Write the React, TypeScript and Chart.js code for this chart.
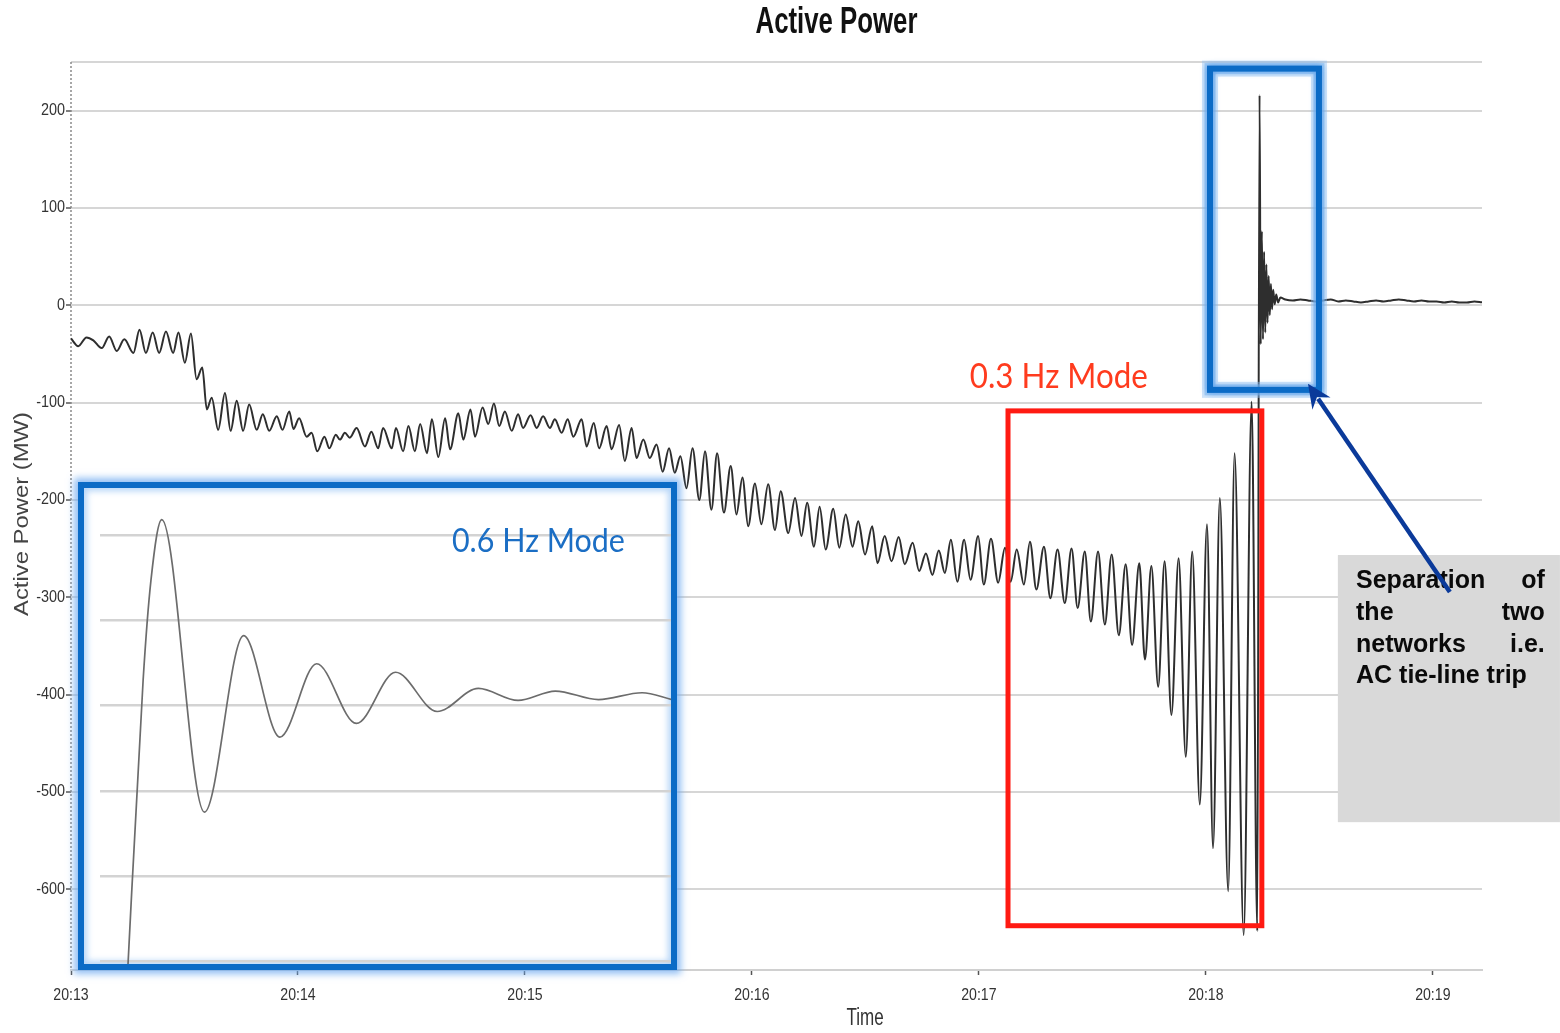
import React, { useEffect, useRef } from 'react';
import { Chart, registerables } from 'chart.js';

Chart.register(...registerables);

// ---------------- Data ----------------
// Main record: seconds after 20:13:00 and active power in MW (peaks / troughs of the swings)
const seg1Seconds = [0.0, 1.9, 4.1, 5.9, 8.1, 10.1, 12.1, 14.1, 16.5, 18.1, 19.8, 21.6, 23.3, 25.1, 27.0, 28.4, 30.1, 31.7, 33.2, 34.7, 35.9, 37.2, 38.9, 40.7, 42.2, 43.8, 45.5, 47.1, 49.1, 50.7, 52.4, 54.4, 55.9, 57.7, 58.8, 60.3, 62.3, 63.6, 65.1, 67.0, 68.3, 70.0, 71.1, 72.4, 73.7, 75.5, 77.7, 79.4, 81.2, 82.5, 84.8, 85.9, 87.8, 89.2, 90.9, 92.3, 94.1, 95.4, 97.1, 98.9];
const seg1PowerMW = [-34, -42, -33, -36, -44, -32, -47, -35, -49, -25, -49, -28, -49, -27, -49, -28, -59, -29, -76, -64, -107, -95, -128, -90, -129, -98, -129, -102, -128, -112, -129, -114, -128, -109, -127, -116, -135, -131, -150, -135, -147, -133, -138, -131, -136, -126, -145, -130, -147, -126, -147, -126, -150, -124, -150, -122, -152, -117, -156, -116];

const seg2Seconds = [100.2, 102.4, 103.7, 105.6, 106.8, 108.8, 110.3, 111.8, 113.2, 114.7, 116.5, 118.2, 119.5, 121.5, 123.1, 124.8, 126.6, 127.9, 129.7, 131.3, 132.8, 135.0, 136.3, 138.2, 139.6, 141.6, 142.9, 144.9, 146.4, 148.2, 149.5, 151.3, 153.0, 154.8, 156.4, 158.1, 159.6, 161.1, 162.7, 164.3, 166.1, 167.6, 169.3, 170.8, 172.6, 174.4, 175.9, 177.5, 179.0, 180.8, 182.5, 184.3, 186.1, 187.6, 189.6, 191.4, 193.1, 194.6, 196.4, 197.9, 199.5];
const seg2PowerMW = [-148, -111, -138, -107, -135, -105, -122, -101, -124, -109, -129, -112, -126, -113, -126, -114, -126, -117, -131, -117, -135, -117, -145, -121, -147, -124, -148, -123, -160, -126, -157, -138, -157, -143, -171, -147, -172, -155, -188, -147, -200, -150, -210, -152, -213, -165, -215, -177, -227, -183, -225, -184, -231, -191, -234, -198, -237, -203, -248, -207, -251];

const seg3Seconds = [201.5, 203.1, 204.8, 206.6, 208.1, 209.9, 211.8, 213.2, 215.1, 216.9, 218.8, 220.4, 222.5, 224.2, 226.0, 227.7, 229.4, 231.0, 232.6, 234.3, 236.1, 237.8, 239.8, 241.3, 243.2, 245.1, 246.9, 248.4, 250.0, 251.9, 253.5, 255.2, 257.2, 258.9, 260.8, 262.7, 264.5, 266.1, 268.0, 269.6, 271.5, 273.3, 275.1, 277.0, 278.8, 280.5, 282.4, 283.9, 285.6, 287.4, 289.1, 290.9, 292.8, 294.7, 296.4, 298.4, 300.3, 301.9, 303.7, 305.9, 307.6, 310.0, 312.1, 313.6];
const seg3PowerMW = [-209, -249, -215, -248, -222, -256, -227, -265, -237, -263, -238, -266, -244, -273, -255, -277, -252, -275, -241, -284, -241, -282, -237, -287, -240, -285, -249, -284, -251, -287, -243, -292, -248, -301, -251, -306, -250, -311, -253, -325, -253, -328, -256, -339, -266, -349, -265, -364, -268, -392, -263, -421, -260, -464, -253, -513, -225, -558, -198, -602, -152, -647, -99, -643];

const seg4Seconds = [314.2, 314.5, 314.8, 315.1, 315.4, 315.7, 316.0, 316.3, 316.6, 316.9, 317.2, 317.5, 317.8, 318.2, 318.6, 319.1, 319.7, 321, 323, 325, 327, 329, 331, 333, 335, 337, 339, 341, 343, 345, 347, 349, 351, 353, 355, 357, 359, 361, 363, 365, 367, 369, 371, 373];
const seg4PowerMW = [216, -40, 76, -35, 55, -28, 42, -18, 30, -10, 22, -4, 16, 1, 11, 3, 8, 6, 5, 6, 5, 4, 5, 6, 4, 5, 4, 3, 4, 5, 4, 5, 6, 5, 4, 5, 4, 4, 3, 4, 3, 3, 4, 3];

// Axis ticks
const timeTickSeconds = [0, 60, 120, 180, 240, 300, 360];
const timeTickLabels = ['20:13', '20:14', '20:15', '20:16', '20:17', '20:18', '20:19'];
const powerTickValues = [200, 100, 0, -100, -200, -300, -400, -500, -600];

// Inset (0.6 Hz mode close-up): seconds and power (inset units)
const insetSeconds = [0.53, 0.88, 1.04, 1.26, 2.13, 2.93, 3.67, 4.42, 5.23, 6.03, 6.88, 7.72, 8.53, 9.29, 10.17, 11.06, 11.67];
const insetPower = [-150, 230, 347, 418, 75, 282, 163, 249, 179, 239, 193, 220, 206, 217, 207, 215, 207];
const insetGridValues = [-100, 0, 100, 200, 300, 400];

// Text
const chartTitle = 'Active Power';
const yAxisTitle = 'Active Power (MW)';
const xAxisTitle = 'Time';
const modeLabelSlow = '0.3 Hz Mode';
const modeLabelFast = '0.6 Hz Mode';
const noteLines = [['Separation', 'of'], ['the', 'two'], ['networks', 'i.e.'], ['AC tie-line trip']];

// ---------------- Layout constants ----------------
const Y_MIN = -683;
const Y_MAX = 250;
const T_MIN = 0;
const T_MAX = 373;

// Annotation geometry in data coordinates (seconds, MW)
const redBox = { t0: 247.7, t1: 314.8, v0: -108.5, v1: -637.5 };
const blueBox = { t0: 301.1, t1: 329.9, v0: 243.2, v1: -86.9 };
const noteBox = { t0: 334.9, t1: 393.6, v0: -256.6, v1: -531.1 };
const noteText = { tLeft: 339.7, tRight: 389.6, baselines: [-290.8, -323.4, -356.0, -388.5] };
const arrow = { tTail: 364.5, vTail: -294.6, tTip: 327.0, vTip: -80.7 };
const slowLabelPos = { t: 237.6, v: -73.5 };
const fastLabelPos = { t: 7.18, v: 393 };

const SANS = "'Liberation Sans', Arial, Helvetica, sans-serif";
const CALIBRI_LIKE = "Lato, 'Open Sans', 'Noto Sans', sans-serif";

function zip(ts: number[], vs: number[]) {
  const n = Math.min(ts.length, vs.length);
  const out: { x: number; y: number }[] = [];
  for (let i = 0; i < n; i++) out.push({ x: ts[i], y: vs[i] });
  return out;
}

function fillFitted(
  ctx: CanvasRenderingContext2D,
  text: string,
  x: number,
  y: number,
  font: string,
  color: string,
  align: CanvasTextAlign,
  width?: number,
  scaleX = 1,
  baseline: CanvasTextBaseline = 'middle'
) {
  ctx.save();
  ctx.font = font;
  ctx.fillStyle = color;
  ctx.textAlign = align;
  ctx.textBaseline = baseline;
  const natural = ctx.measureText(text).width;
  const sx = width ? width / natural : scaleX;
  ctx.translate(x, y);
  ctx.scale(sx, 1);
  ctx.fillText(text, 0, 0);
  ctx.restore();
}

const overlayPlugin = {
  id: 'overlayAnnotations',
  beforeDatasetsDraw(chart: any) {
    // dotted left axis line
    const ctx: CanvasRenderingContext2D = chart.ctx;
    const area = chart.chartArea;
    ctx.save();
    ctx.strokeStyle = '#8a8a8a';
    ctx.lineWidth = 1.5;
    ctx.setLineDash([2, 2]);
    ctx.beginPath();
    ctx.moveTo(area.left, area.top);
    ctx.lineTo(area.left, area.bottom);
    ctx.stroke();
    ctx.restore();
  },
  afterDatasetsDraw(chart: any) {
    const ctx: CanvasRenderingContext2D = chart.ctx;
    const xs = chart.scales.x;
    const ys = chart.scales.y;
    const px = (t: number) => xs.getPixelForValue(t);
    const py = (v: number) => ys.getPixelForValue(v);

    // Red box (0.3 Hz mode)
    ctx.save();
    ctx.strokeStyle = '#ff1a12';
    ctx.lineWidth = 5;
    ctx.strokeRect(px(redBox.t0), py(redBox.v0), px(redBox.t1) - px(redBox.t0), py(redBox.v1) - py(redBox.v0));
    ctx.restore();

    // Blue glowing box (separation)
    ctx.save();
    const bx = px(blueBox.t0), by = py(blueBox.v0);
    const bw = px(blueBox.t1) - bx, bh = py(blueBox.v1) - by;
    ctx.strokeStyle = 'rgba(150,195,242,0.45)';
    ctx.lineWidth = 16;
    ctx.strokeRect(bx, by, bw, bh);
    ctx.strokeStyle = 'rgba(130,185,240,0.55)';
    ctx.lineWidth = 11;
    ctx.strokeRect(bx, by, bw, bh);
    ctx.shadowColor = 'rgba(60,140,230,0.8)';
    ctx.shadowBlur = 6;
    ctx.strokeStyle = '#0b6bc6';
    ctx.lineWidth = 6;
    ctx.strokeRect(bx, by, bw, bh);
    ctx.restore();

    // 0.3 Hz label
    fillFitted(ctx, modeLabelSlow, px(slowLabelPos.t), py(slowLabelPos.v), `34px ${CALIBRI_LIKE}`, '#ff3b1e', 'left', 178);

    // Grey note box
    ctx.save();
    ctx.fillStyle = '#d9d9d9';
    const gx = px(noteBox.t0), gy = py(noteBox.v0);
    ctx.fillRect(gx, gy, px(noteBox.t1) - gx, py(noteBox.v1) - gy);
    ctx.restore();

    const left = px(noteText.tLeft);
    const right = px(noteText.tRight);
    noteLines.forEach((words, i) => {
      const base = py(noteText.baselines[i]);
      const font = `bold 25px ${SANS}`;
      fillFitted(ctx, words[0], left, base, font, '#0a0a0a', 'left', undefined, 1, 'alphabetic');
      if (words.length > 1) {
        fillFitted(ctx, words[words.length - 1], right, base, font, '#0a0a0a', 'right', undefined, 1, 'alphabetic');
      }
    });

    // Arrow
    const tx = px(arrow.tTail), ty = py(arrow.vTail);
    const hx = px(arrow.tTip), hy = py(arrow.vTip);
    const ang = Math.atan2(hy - ty, hx - tx);
    const headLen = 24;
    const headHalf = 11;
    const baseX = hx - headLen * Math.cos(ang);
    const baseY = hy - headLen * Math.sin(ang);
    ctx.save();
    ctx.strokeStyle = '#0b3a9a';
    ctx.fillStyle = '#0b3a9a';
    ctx.lineWidth = 4.5;
    ctx.beginPath();
    ctx.moveTo(tx, ty);
    ctx.lineTo(baseX + 6 * Math.cos(ang), baseY + 6 * Math.sin(ang));
    ctx.stroke();
    ctx.beginPath();
    ctx.moveTo(hx, hy);
    ctx.lineTo(baseX + headHalf * Math.sin(ang), baseY - headHalf * Math.cos(ang));
    ctx.lineTo(baseX + 8 * Math.cos(ang), baseY + 8 * Math.sin(ang));
    ctx.lineTo(baseX - headHalf * Math.sin(ang), baseY + headHalf * Math.cos(ang));
    ctx.closePath();
    ctx.fill();
    ctx.restore();
  },
  afterDraw(chart: any) {
    const ctx: CanvasRenderingContext2D = chart.ctx;
    const xs = chart.scales.x;
    const ys = chart.scales.y;
    const area = chart.chartArea;

    // Title
    fillFitted(ctx, chartTitle, 836.5, 23, `bold 37px ${SANS}`, '#111111', 'center', 162);

    // Y tick labels
    powerTickValues.forEach((v) => {
      fillFitted(ctx, String(v), area.left - 6, ys.getPixelForValue(v), `16px ${SANS}`, '#333333', 'right', undefined, 0.9);
    });
    // X tick labels
    timeTickSeconds.forEach((s, i) => {
      fillFitted(ctx, timeTickLabels[i], xs.getPixelForValue(s), area.bottom + 25, `17px ${SANS}`, '#333333', 'center', undefined, 0.83);
    });

    // Axis titles
    fillFitted(ctx, xAxisTitle, 865, area.bottom + 49, `23px ${SANS}`, '#333333', 'center', undefined, 0.74);
    ctx.save();
    ctx.translate(22, (area.top + area.bottom) / 2 - 2);
    ctx.rotate(-Math.PI / 2);
    fillFitted(ctx, yAxisTitle, 0, 0, `20px ${SANS}`, '#444444', 'center', 204);
    ctx.restore();
  },
};

const insetLabelPlugin = {
  id: 'insetLabel',
  afterDraw(chart: any) {
    const ctx: CanvasRenderingContext2D = chart.ctx;
    const px = chart.scales.x.getPixelForValue(fastLabelPos.t);
    const py = chart.scales.y.getPixelForValue(fastLabelPos.v);
    fillFitted(ctx, modeLabelFast, px, py, `33px ${CALIBRI_LIKE}`, '#1b6ec4', 'left', 173);
  },
};

export default function App() {
  const mainRef = useRef<HTMLCanvasElement>(null);
  const insetRef = useRef<HTMLCanvasElement>(null);

  useEffect(() => {
    document.body.style.margin = '0';
    const mainPoints = [
      ...zip(seg1Seconds, seg1PowerMW),
      ...zip(seg2Seconds, seg2PowerMW),
      ...zip(seg3Seconds, seg3PowerMW),
      ...zip(seg4Seconds, seg4PowerMW),
    ];

    const main = new Chart(mainRef.current as HTMLCanvasElement, {
      type: 'line',
      data: {
        datasets: [
          {
            data: mainPoints,
            borderColor: '#2e2e2e',
            borderWidth: 2,
            pointRadius: 0,
            fill: false,
            cubicInterpolationMode: 'monotone',
          },
        ],
      },
      options: {
        animation: false,
        responsive: false,
        events: [],
        layout: { padding: { left: 0, right: 78, top: 62, bottom: 0 } },
        plugins: {
          legend: { display: false },
          title: { display: false },
          tooltip: { enabled: false },
        },
        scales: {
          x: {
            type: 'linear',
            min: T_MIN,
            max: T_MAX,
            afterBuildTicks: (s: any) => {
              s.ticks = timeTickSeconds.map((value) => ({ value }));
            },
            afterFit: (s: any) => {
              s.height = 63;
            },
            ticks: { display: false },
            grid: { drawOnChartArea: false, drawTicks: true, tickLength: 5, tickColor: '#555555', tickWidth: 1.5 },
            border: { display: true, color: '#d0d0d0', width: 2 },
          },
          y: {
            type: 'linear',
            min: Y_MIN,
            max: Y_MAX,
            afterBuildTicks: (s: any) => {
              const vals = [Y_MIN, ...[...powerTickValues].reverse(), Y_MAX];
              s.ticks = vals.map((value) => ({ value }));
            },
            afterFit: (s: any) => {
              s.width = 71;
            },
            ticks: { display: false },
            grid: {
              color: '#d6d6d6',
              lineWidth: 2,
              drawTicks: true,
              tickLength: 5,
              tickWidth: 1.5,
              tickColor: (c: any) => (c.tick && powerTickValues.includes(c.tick.value) ? '#555555' : 'rgba(0,0,0,0)'),
            },
            border: { display: false },
          },
        },
      },
      plugins: [overlayPlugin],
    } as any);

    const inset = new Chart(insetRef.current as HTMLCanvasElement, {
      type: 'line',
      data: {
        datasets: [
          {
            data: zip(insetSeconds, insetPower),
            borderColor: '#6c6c6c',
            borderWidth: 1.7,
            pointRadius: 0,
            fill: false,
            cubicInterpolationMode: 'monotone',
          },
        ],
      },
      options: {
        animation: false,
        responsive: false,
        events: [],
        layout: { padding: { left: 16, right: 0, top: 0, bottom: 0 } },
        plugins: {
          legend: { display: false },
          title: { display: false },
          tooltip: { enabled: false },
        },
        scales: {
          x: { type: 'linear', min: 0, max: 11.65, display: false },
          y: {
            type: 'linear',
            min: -103,
            max: 455,
            afterBuildTicks: (s: any) => {
              s.ticks = insetGridValues.map((value) => ({ value }));
            },
            afterFit: (s: any) => {
              s.width = 0;
            },
            ticks: { display: false },
            grid: { color: '#d3d3d3', lineWidth: 2.5, drawTicks: false },
            border: { display: false },
          },
        },
      },
      plugins: [insetLabelPlugin],
    } as any);

    return () => {
      main.destroy();
      inset.destroy();
    };
  }, []);

  return (
    <div style={{ position: 'relative', width: 1560, height: 1033, background: '#ffffff', overflow: 'hidden' }}>
      <canvas ref={mainRef} width={1560} height={1033} style={{ position: 'absolute', left: 0, top: 0 }} />
      <div
        style={{
          position: 'absolute',
          left: 78,
          top: 482,
          width: 599,
          height: 488,
          boxSizing: 'border-box',
          border: '6px solid #0b6bc6',
          background: '#ffffff',
          boxShadow: '0 0 7px 4px rgba(110,170,240,0.75), inset 0 0 6px 3px rgba(150,195,245,0.7)',
        }}
      >
        <canvas ref={insetRef} width={587} height={476} style={{ display: 'block' }} />
      </div>
    </div>
  );
}
